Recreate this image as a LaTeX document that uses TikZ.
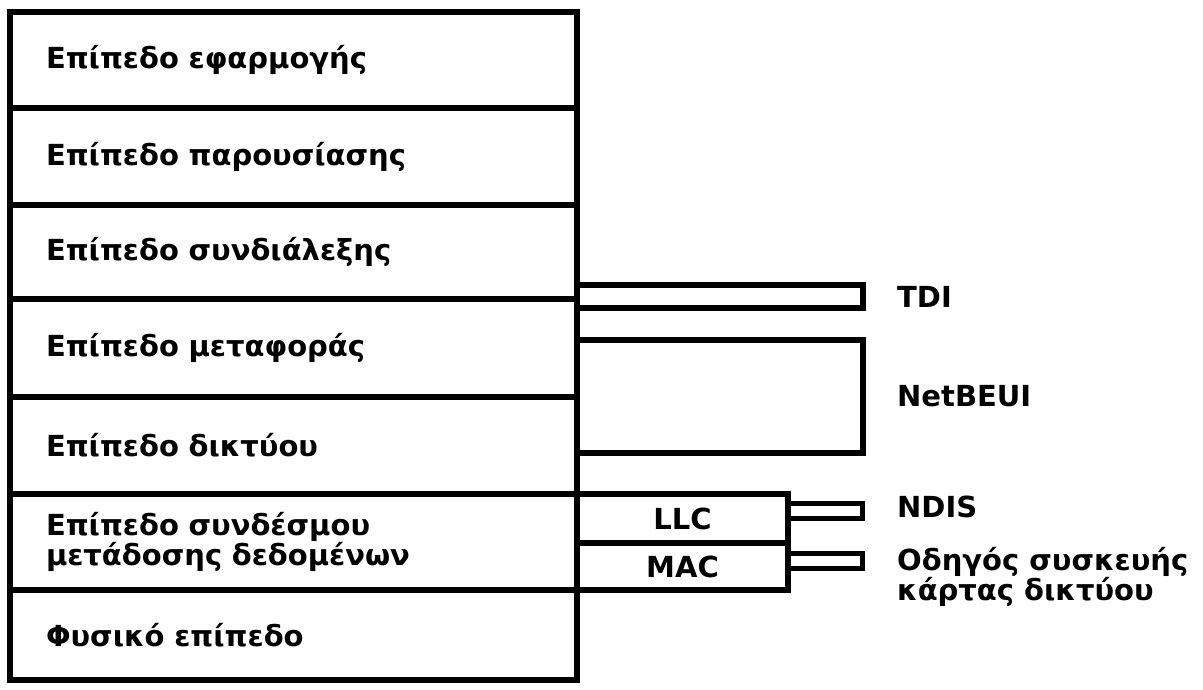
\documentclass[tikz,border=0pt]{standalone}
\usepackage{fontspec}
\setmainfont{DejaVu Sans}
\usetikzlibrary{positioning}

\begin{document}
\begin{tikzpicture}[
  x=1pt, y=-1pt,
  font=\fontsize{29}{30}\selectfont\bfseries,
  layer/.style={rectangle,draw=black,line width=6pt,outer sep=0pt,inner xsep=36pt,text width=495pt,align=left},
  side/.style={rectangle,draw=black,line width=6pt,outer sep=0pt,inner sep=0pt},
  stub/.style={rectangle,draw=black,line width=5pt,outer sep=0pt,inner sep=0pt,minimum width=74pt,minimum height=15pt},
  lbl/.style={inner sep=0pt,align=left}
]
\useasboundingbox (0,0) rectangle (1203,690);
% OSI layers
\node[layer,anchor=north west,minimum height=96pt] (app) at (10,12) {Επίπεδο εφαρμογής};
\node[layer,below=0pt of app,minimum height=97pt] (pres) {Επίπεδο παρουσίασης};
\node[layer,below=0pt of pres,minimum height=94pt] (sess) {Επίπεδο συνδιάλεξης};
\node[layer,below=0pt of sess,minimum height=98pt] (trans) {Επίπεδο μεταφοράς};
\node[layer,below=0pt of trans,minimum height=97pt] (net) {Επίπεδο δικτύου};
\node[layer,below=0pt of net,minimum height=96pt] (dlink) {Επίπεδο συνδέσμου\\μετάδοσης δεδομένων};
\node[layer,below=0pt of dlink,minimum height=90pt] (phys) {Φυσικό επίπεδο};
% Windows components
\node[side,anchor=north west,minimum width=286pt,minimum height=23pt] (tdibar) at ([yshift=14pt]sess.south east) {};
\node[side,anchor=north west,minimum width=286pt,minimum height=113pt] (netbox) at ([yshift=-41pt]trans.north east) {};
\node[side,anchor=north west,minimum width=211pt,minimum height=49pt] (llc) at (dlink.north east) {LLC};
\node[side,below=0pt of llc,minimum width=211pt,minimum height=47pt] (mac) {MAC};
\node[stub,anchor=west] (ndisbar) at ([yshift=8pt]llc.east) {};
\node[stub,anchor=west] (macbar) at ([yshift=6pt]mac.east) {};
% labels
\node[lbl,right=34pt of tdibar] (tdi) {TDI};
\node[lbl,right=34pt of netbox] (netbeui) {NetBEUI};
\node[lbl,right=35pt of ndisbar,yshift=4pt] (ndis) {NDIS};
\node[lbl,right=35pt of macbar,yshift=-16pt] (nicdrv) {Οδηγός συσκευής\\κάρτας δικτύου};
\end{tikzpicture}
\end{document}
